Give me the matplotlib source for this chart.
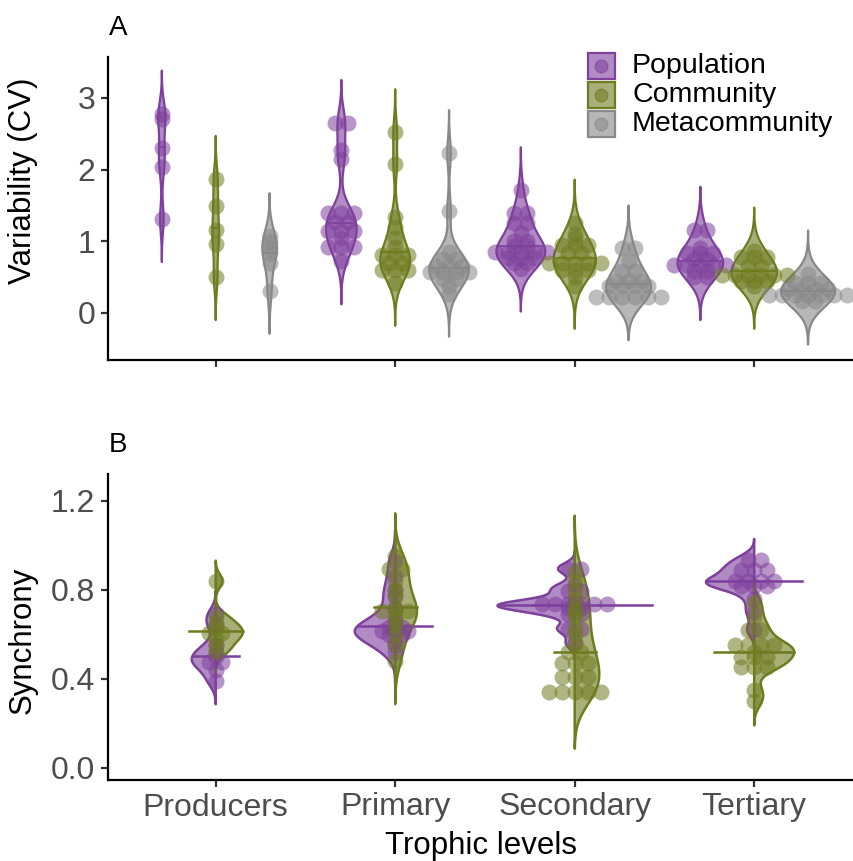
import matplotlib
matplotlib.use("Agg")
import matplotlib.pyplot as plt
import numpy as np
from matplotlib.patches import Rectangle

plt.rcParams["font.family"] = ["Liberation Sans", "DejaVu Sans"]

W, H = 854, 861

levels = ["Producers", "Primary", "Secondary", "Tertiary"]
scales = ["Population", "Community", "Metacommunity"]
colors = ["#7E3F9D", "#6E7B1E", "#888888"]

# Panel A: variability (CV), one list per trophic level
cv_population = [
    [2.78, 2.71, 2.30, 2.04, 1.31],
    [2.65, 2.65, 2.27, 2.15, 1.39, 1.39, 1.39, 1.27, 1.27, 1.15, 1.15, 1.15,
     1.05, 0.92, 0.92, 0.92, 0.72],
    [1.71, 1.39, 1.39, 1.26, 1.26, 1.12, 1.00, 1.00, 0.93, 0.93, 0.85, 0.85,
     0.85, 0.85, 0.85, 0.77, 0.77, 0.77, 0.70, 0.70, 0.62],
    [1.16, 1.16, 0.90, 0.83, 0.83, 0.83, 0.75, 0.75, 0.67, 0.67, 0.67, 0.67,
     0.67, 0.58, 0.58, 0.50, 0.50],
]
cv_community = [
    [1.87, 1.49, 1.16, 0.96, 0.50],
    [2.52, 2.08, 1.34, 1.20, 1.05, 0.92, 0.81, 0.81, 0.81, 0.70, 0.70, 0.60,
     0.60, 0.60, 0.42],
    [1.26, 1.10, 1.05, 0.95, 0.95, 0.95, 0.83, 0.83, 0.70, 0.70, 0.70, 0.70,
     0.70, 0.60, 0.60, 0.60, 0.50, 0.38],
    [0.87, 0.78, 0.78, 0.78, 0.65, 0.65, 0.53, 0.53, 0.53, 0.53, 0.53, 0.53,
     0.45, 0.45, 0.45, 0.38],
]
cv_metacommunity = [
    [1.07, 0.99, 0.91, 0.83, 0.69, 0.31],
    [2.23, 1.42, 0.85, 0.75, 0.75, 0.66, 0.66, 0.66, 0.57, 0.57, 0.57, 0.57,
     0.47, 0.47, 0.38, 0.27],
    [0.90, 0.90, 0.72, 0.58, 0.58, 0.45, 0.45, 0.45, 0.37, 0.37, 0.37, 0.37,
     0.22, 0.22, 0.22, 0.22, 0.22, 0.22],
    [0.55, 0.42, 0.42, 0.42, 0.33, 0.33, 0.33, 0.33, 0.25, 0.25, 0.25, 0.25,
     0.25, 0.25, 0.25, 0.16, 0.16],
]

# Panel B: synchrony
sync_population = [
    [0.69, 0.64, 0.55, 0.52, 0.50, 0.48, 0.47, 0.44, 0.39],
    [0.93, 0.86, 0.80, 0.77, 0.72, 0.67, 0.65, 0.64, 0.63, 0.62, 0.61, 0.61,
     0.60, 0.59, 0.57, 0.55, 0.52],
    [0.90, 0.89, 0.82, 0.80, 0.79, 0.745, 0.74, 0.735, 0.73, 0.73, 0.73, 0.73,
     0.725, 0.715, 0.69, 0.69, 0.625, 0.625, 0.56],
    [0.94, 0.93, 0.89, 0.89, 0.89, 0.84, 0.84, 0.84, 0.84, 0.815, 0.815,
     0.815, 0.76, 0.70, 0.62],
]
sync_community = [
    [0.84, 0.68, 0.65, 0.63, 0.61, 0.60, 0.58, 0.55, 0.52],
    [0.95, 0.90, 0.89, 0.84, 0.80, 0.77, 0.72, 0.71, 0.70, 0.70, 0.67, 0.64,
     0.60, 0.55, 0.48],
    [0.88, 0.84, 0.80, 0.76, 0.72, 0.70, 0.68, 0.63, 0.60, 0.56, 0.52, 0.52,
     0.47, 0.47, 0.47, 0.41, 0.41, 0.41, 0.34, 0.34, 0.34, 0.34, 0.34],
    [0.74, 0.68, 0.62, 0.62, 0.55, 0.55, 0.55, 0.55, 0.52, 0.50, 0.50, 0.50,
     0.455, 0.455, 0.455, 0.35, 0.30],
]


def nrd0(x):
    x = np.asarray(x, float)
    sd = x.std(ddof=1)
    q75, q25 = np.percentile(x, [75, 25])
    lo = min(sd, (q75 - q25) / 1.34) if q75 > q25 else sd
    return 0.9 * lo * len(x) ** -0.2


def kde(x, bw=None, cut=3):
    x = np.asarray(x, float)
    bw = nrd0(x) if bw is None else bw
    grid = np.linspace(x.min() - cut * bw, x.max() + cut * bw, 512)
    z = (grid[:, None] - x[None, :]) / bw
    dens = np.exp(-0.5 * z ** 2).sum(1) / (len(x) * bw * np.sqrt(2 * np.pi))
    # scale = "count"
    return grid, dens * len(x)


def dens_median(grid, dens):
    cdf = np.cumsum(dens)
    cdf /= cdf[-1]
    return np.interp(0.5, cdf, grid)


def dotstack(values, binwidth):
    # dot-density binning, dots of a bin stacked side by side (centred)
    v = np.sort(np.asarray(values, float))
    xs, ys = [], []
    i = 0
    while i < len(v):
        j = i
        while j + 1 < len(v) and v[j + 1] < v[i] + binwidth:
            j += 1
        b = v[i:j + 1]
        for k in range(len(b)):
            xs.append(k - (len(b) - 1) / 2)
            ys.append((b[0] + b[-1]) / 2)
        i = j + 1
    return np.array(xs), np.array(ys)


def style_axis(ax):
    for s in ["top", "right"]:
        ax.spines[s].set_visible(False)
    for s in ["left", "bottom"]:
        ax.spines[s].set_linewidth(1.6)
    ax.tick_params(length=5, width=1.6, labelsize=23, labelcolor="#4D4D4D",
                   color="#333333", pad=4)
    ax.set_xlim(0.4, 4.556)
    ax.set_xticks(range(1, 5))


fig = plt.figure(figsize=(W / 100, H / 100), dpi=100)
axA = fig.add_axes([108 / W, 1 - 360 / H, (W - 108) / W, (360 - 57) / H])
axB = fig.add_axes([108 / W, 1 - 780 / H, (W - 108) / W, (780 - 474) / H])

px_x = (W - 108) / (4.556 - 0.4)
diam = 16
gap = 13
pt_size = (diam * 0.72) ** 2

# ---- panel A
groupsA = [cv_population, cv_community, cv_metacommunity]
kdesA = [[kde(g[i], bw=0.2) for i in range(4)] for g in groupsA]
maxA = max(d.max() for row in kdesA for _, d in row)
for j, g in enumerate(groupsA):
    for i in range(4):
        xc = i + 1 + (j - 1) * 0.3
        grid, dens = kdesA[j][i]
        w = dens / maxA * 0.15
        axA.fill_betweenx(grid, xc - w, xc + w, facecolor=colors[j], alpha=0.6,
                          edgecolor="none", zorder=2)
        axA.fill_betweenx(grid, xc - w, xc + w, facecolor="none",
                          edgecolor=colors[j], lw=1.6, zorder=2.1)
        m = dens_median(grid, dens)
        wm = np.interp(m, grid, w)
        axA.plot([xc - wm, xc + wm], [m, m], color=colors[j], lw=1.2, zorder=2.2)
        dx, dy = dotstack(g[i], 0.04)
        axA.scatter(xc + dx * gap / px_x, dy, s=pt_size, color=colors[j],
                    alpha=0.55, lw=0, zorder=3)

style_axis(axA)
axA.set_ylim(-0.656, 3.57)
axA.set_yticks([0, 1, 2, 3])
axA.set_xticklabels([])
axA.set_ylabel("Variability (CV)", fontsize=22.5)
axA.yaxis.set_label_coords(-0.094, (360 - 181) / (360 - 57))

# ---- panel B (split violins)
groupsB = [sync_population, sync_community]
kdesB = [[kde(g[i]) for i in range(4)] for g in groupsB]
maxB = max(d.max() for row in kdesB for _, d in row)
for i in range(4):
    xc = i + 1
    for j, g in enumerate(groupsB):
        grid, dens = kdesB[j][i]
        w = dens / maxB * 0.43
        lo, hi = (xc - w, xc + 0 * w) if j == 0 else (xc + 0 * w, xc + w)
        axB.fill_betweenx(grid, lo, hi, facecolor=colors[j], alpha=0.6,
                          edgecolor="none", zorder=2 + j * 0.3)
        axB.fill_betweenx(grid, lo, hi, facecolor="none", edgecolor=colors[j],
                          lw=1.8, zorder=2.1 + j * 0.3)
        m = dens_median(grid, dens)
        wm = np.interp(m, grid, w)
        axB.plot([xc - wm, xc + wm], [m, m], color=colors[j], lw=1.8,
                 zorder=2.2 + j * 0.3)
    for j, g in enumerate(groupsB):
        dx, dy = dotstack(g[i], 0.012)
        axB.scatter(xc + dx * gap / px_x, dy, s=pt_size, color=colors[j],
                    alpha=0.55, lw=0, zorder=3)

style_axis(axB)
axB.set_ylim(-0.054, 1.32)
axB.set_yticks([0, 0.4, 0.8, 1.2])
axB.set_yticklabels(["0.0", "0.4", "0.8", "1.2"])
axB.set_xticklabels(levels)
axB.set_ylabel("Synchrony", fontsize=22.5)
axB.yaxis.set_label_coords(-0.094, (780 - 640) / (780 - 474))
axB.set_xlabel("Trophic levels", fontsize=22.5, labelpad=6)

# panel tags
fig.text(109 / W, 1 - 28 / H, "A", fontsize=20, va="center")
fig.text(109 / W, 1 - 445 / H, "B", fontsize=20, va="center")

# legend (manual, figure pixels)
for k, (name, c) in enumerate(zip(scales, colors)):
    yc = 66 + k * 29
    for fc, ec, a in [(c, "none", 0.6), ("none", c, 1.0)]:
        fig.add_artist(Rectangle((588 / W, 1 - (yc + 13) / H), 27 / W, 26 / H,
                                 transform=fig.transFigure, facecolor=fc,
                                 edgecolor=ec, alpha=a, lw=1.6))
    fig.add_artist(plt.Line2D([601.5 / W], [1 - yc / H], marker="o",
                              markersize=diam * 0.72 * 0.8, color=c,
                              alpha=0.55, lw=0, transform=fig.transFigure))
    fig.text(632 / W, 1 - yc / H, name, fontsize=20.5, va="center")

fig.savefig("out.png", dpi=100)
